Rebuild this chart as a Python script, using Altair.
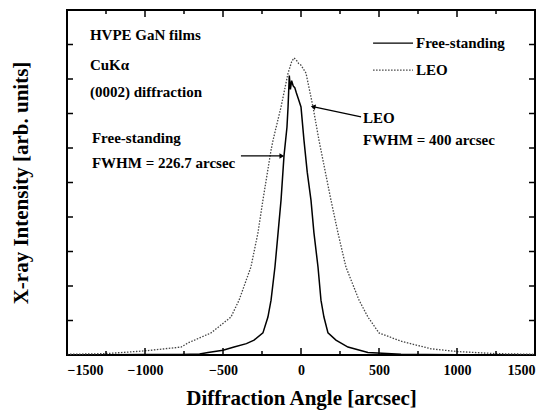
import altair as alt
import pandas as pd

# ---- data (angle in arcsec, intensity arb. units) ----
fs_x = [-1500, -1250, -1000, -769, -650, -596, -500, -429, -350, -301, -244, -212, -192, -167,
        -147, -128, -109, -90, -83, -75, -68, -60, -50, -40, -30, -15, 0, 19, 40, 64, 83, 109,
        128, 147, 173, 224, 301, 429, 641, 800, 1000, 1250, 1500]
fs_y = [0.01, 0.01, 0.015, 0.014, 0.03, 0.07, 0.14, 0.23, 0.33, 0.43, 0.64, 1.10, 1.59, 2.55,
        3.54, 4.49, 5.77, 6.6, 7.19, 8.10, 7.70, 7.95, 7.80, 7.75, 7.60, 7.40, 7.19, 6.23, 5.30, 4.49, 3.54,
        2.55, 1.59, 1.10, 0.64, 0.43, 0.23, 0.07, 0.02, 0.015, 0.01, 0.01, 0.01]

leo_x = [-1500, -1250, -1000, -769, -724, -577, -449, -397, -321, -276, -244, -192, -179, -128,
         -83, -60, -45, -30, -15, 0, 32, 77, 115, 192, 237, 288, 372, 429, 500, 641, 833, 1000,
         1250, 1500]
leo_y = [0.02, 0.04, 0.12, 0.23, 0.35, 0.64, 1.10, 1.59, 2.55, 3.54, 4.49, 5.94, 6.23, 7.19,
         8.17, 8.50, 8.61, 8.55, 8.45, 8.40, 8.17, 7.19, 6.23, 4.49, 3.54, 2.55, 1.59, 1.10, 0.64,
         0.40, 0.18, 0.10, 0.04, 0.02]

x_major = [-1500, -1000, -500, 0, 500, 1000, 1500]
x_minor = [-1250, -750, -250, 250, 750, 1250]
y_ticks = [1, 2, 3, 4, 5, 6, 7, 8, 9]

notes_text = ["HVPE GaN films", "CuK\u03b1", "(0002) diffraction", "Free-standing",
              "FWHM = 226.7 arcsec", "LEO", "FWHM = 400 arcsec"]
notes_x = [-1353, -1353, -1353, -1340, -1340, 397, 397]
notes_y = [9.28, 8.41, 7.62, 6.29, 5.57, 6.87, 6.23]

legend_names = ["Free-standing", "LEO"]
legend_x0 = [462, 462]
legend_x1 = [718, 718]
legend_tx = [737, 737]
legend_y = [9.04, 8.26]

arrow_x0 = [-385, 385]
arrow_y0 = [5.77, 6.90]
arrow_x1 = [-128, 83]
arrow_y1 = [5.77, 7.19]
arrow_angle = [90, 282]

FONT = "Liberation Serif"
W, H = 468, 345

xs = alt.Scale(domain=[-1500, 1500], nice=False, zero=False)
ys = alt.Scale(domain=[0, 10], nice=False, zero=False)

fs_df = pd.DataFrame({"x": fs_x, "y": fs_y})
leo_df = pd.DataFrame({"x": leo_x, "y": leo_y})

base_x = alt.X("x:Q", scale=xs,
               axis=alt.Axis(values=x_major, format="d", ticks=False, domain=False, grid=False,
                             labelFont=FONT, labelFontWeight="bold", labelFontSize=14,
                             labelColor="black", labelPadding=8,
                             title="Diffraction Angle [arcsec]", titleFont=FONT,
                             titleFontSize=21, titleFontWeight="bold", titleColor="black",
                             titlePadding=10))
base_y = alt.Y("y:Q", scale=ys,
               axis=alt.Axis(labels=False, ticks=False, domain=False, grid=False,
                             title="X-ray Intensity [arb. units]", titleFont=FONT,
                             titleFontSize=21, titleFontWeight="bold", titleColor="black",
                             titlePadding=36))

fs_line = alt.Chart(fs_df).mark_line(color="black", strokeWidth=1.5).encode(x=base_x, y=base_y)
leo_line = alt.Chart(leo_df).mark_line(color="#444444", strokeWidth=1.3,
                                       strokeDash=[1.5, 1.5]).encode(
    x=alt.X("x:Q", scale=xs), y=alt.Y("y:Q", scale=ys))

# tick marks pointing inward
xmaj = pd.DataFrame({"x": x_major})
xmin = pd.DataFrame({"x": x_minor})
ytk = pd.DataFrame({"y": y_ticks})
tick_style = dict(color="black", strokeWidth=1.5)
ticks = [
    alt.Chart(xmaj).mark_rule(**tick_style).encode(x=alt.X("x:Q", scale=xs), y=alt.value(H), y2=alt.value(H - 7)),
    alt.Chart(xmin).mark_rule(**tick_style).encode(x=alt.X("x:Q", scale=xs), y=alt.value(H), y2=alt.value(H - 4)),
    alt.Chart(xmaj).mark_rule(**tick_style).encode(x=alt.X("x:Q", scale=xs), y=alt.value(0), y2=alt.value(7)),
    alt.Chart(xmin).mark_rule(**tick_style).encode(x=alt.X("x:Q", scale=xs), y=alt.value(0), y2=alt.value(4)),
    alt.Chart(ytk).mark_rule(**tick_style).encode(y=alt.Y("y:Q", scale=ys), x=alt.value(0), x2=alt.value(6)),
    alt.Chart(ytk).mark_rule(**tick_style).encode(y=alt.Y("y:Q", scale=ys), x=alt.value(W), x2=alt.value(W - 6)),
]

notes_df = pd.DataFrame({"t": notes_text, "x": notes_x, "y": notes_y})
notes = alt.Chart(notes_df).mark_text(font=FONT, fontWeight="bold", fontSize=15, align="left",
                                      baseline="middle", color="black").encode(
    x=alt.X("x:Q", scale=xs), y=alt.Y("y:Q", scale=ys), text="t:N")

leg_df = pd.DataFrame({"name": legend_names, "x0": legend_x0, "x1": legend_x1,
                       "tx": legend_tx, "y": legend_y})
leg_fs = alt.Chart(leg_df.iloc[[0]]).mark_rule(color="black", strokeWidth=1.2).encode(
    x=alt.X("x0:Q", scale=xs), x2="x1:Q", y=alt.Y("y:Q", scale=ys))
leg_leo = alt.Chart(leg_df.iloc[[1]]).mark_rule(color="#444444", strokeWidth=1.2,
                                                 strokeDash=[1.5, 1.5]).encode(
    x=alt.X("x0:Q", scale=xs), x2="x1:Q", y=alt.Y("y:Q", scale=ys))
leg_text = alt.Chart(leg_df).mark_text(font=FONT, fontWeight="bold", fontSize=15, align="left",
                                       baseline="middle", color="black").encode(
    x=alt.X("tx:Q", scale=xs), y=alt.Y("y:Q", scale=ys), text="name:N")

arr_df = pd.DataFrame({"x0": arrow_x0, "y0": arrow_y0, "x1": arrow_x1, "y1": arrow_y1,
                       "a": arrow_angle})
arr_lines = alt.Chart(arr_df).mark_rule(color="black", strokeWidth=1.3).encode(
    x=alt.X("x0:Q", scale=xs), y=alt.Y("y0:Q", scale=ys), x2="x1:Q", y2="y1:Q")
arr_heads = alt.Chart(arr_df).mark_point(shape="triangle", filled=True, color="black",
                                         size=30, opacity=1).encode(
    x=alt.X("x1:Q", scale=xs), y=alt.Y("y1:Q", scale=ys),
    angle=alt.Angle("a:Q", scale=None))

chart = alt.layer(fs_line, leo_line, *ticks, notes, leg_fs, leg_leo, leg_text,
                  arr_lines, arr_heads).properties(
    width=W, height=H,
    autosize=alt.AutoSizeParams(type="none"),
    padding={"left": 59, "top": 2, "right": 11, "bottom": 58},
    background="white",
).configure_view(stroke="black", strokeWidth=2)

chart.save("out.html", embed_options={"renderer": "svg", "actions": False})
